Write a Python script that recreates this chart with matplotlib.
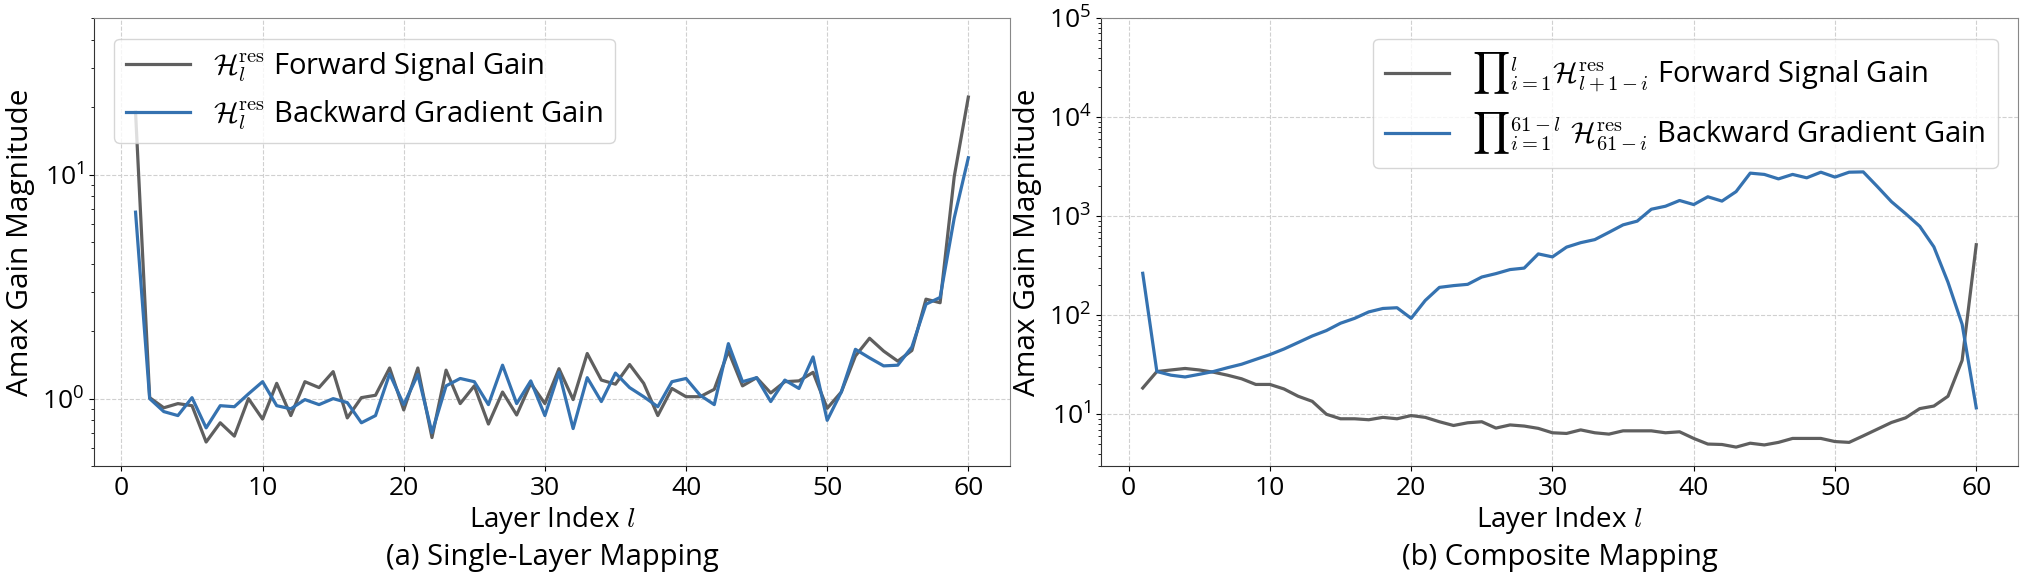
import matplotlib
matplotlib.use("Agg")
import matplotlib.pyplot as plt
import numpy as np

plt.rcParams["font.family"] = ["Open Sans", "DejaVu Sans"]
plt.rcParams["mathtext.fontset"] = "cm"

# layer index
layers = list(range(1, 61))

# (a) single-layer mapping
single_fwd = [
    19.0, 1.01, 0.91, 0.95, 0.93, 0.64, 0.78, 0.68, 1.00, 0.81,
    1.17, 0.84, 1.19, 1.12, 1.32, 0.82, 1.01, 1.035, 1.37, 0.89,
    1.37, 0.67, 1.34, 0.95, 1.14, 0.77, 1.07, 0.845, 1.17, 0.95,
    1.36, 0.99, 1.59, 1.21, 1.16, 1.42, 1.17, 0.84, 1.11, 1.02,
    1.02, 1.10, 1.63, 1.14, 1.24, 1.06, 1.19, 1.20, 1.31, 0.905,
    1.07, 1.55, 1.86, 1.63, 1.47, 1.64, 2.78, 2.68, 9.8, 22.2,
]
single_bwd = [
    6.8, 1.00, 0.875, 0.84, 1.01, 0.74, 0.93, 0.92, 1.05, 1.19,
    0.93, 0.90, 0.99, 0.94, 1.00, 0.96, 0.78, 0.84, 1.29, 0.94,
    1.28, 0.705, 1.14, 1.23, 1.19, 0.94, 1.41, 0.95, 1.20, 0.84,
    1.31, 0.735, 1.24, 0.97, 1.30, 1.12, 1.02, 0.92, 1.19, 1.23,
    1.035, 0.94, 1.76, 1.19, 1.24, 0.97, 1.21, 1.11, 1.535, 0.80,
    1.07, 1.66, 1.52, 1.40, 1.41, 1.70, 2.64, 2.83, 6.4, 11.9,
]

# (b) composite mapping
comp_fwd = [
    18.4, 27.0, 28.0, 29.0, 28.0, 26.6, 24.8, 22.8, 20.0, 20.0,
    18.0, 15.2, 13.5, 10.0, 9.0, 9.0, 8.8, 9.3, 9.0, 9.7,
    9.3, 8.4, 7.7, 8.2, 8.4, 7.25, 7.8, 7.6, 7.2, 6.5,
    6.4, 6.95, 6.5, 6.3, 6.8, 6.8, 6.8, 6.5, 6.65, 5.7,
    5.0, 4.95, 4.66, 5.1, 4.9, 5.2, 5.7, 5.7, 5.7, 5.3,
    5.2, 6.05, 7.07, 8.26, 9.2, 11.4, 12.1, 15.2, 35.0, 515.0,
]
comp_bwd = [
    265, 27.0, 24.8, 23.8, 25.3, 27.0, 29.5, 32.0, 35.8, 40.0,
    45.6, 53.0, 61.7, 70.0, 83.0, 93.0, 108, 117, 119, 93.0,
    141, 191, 199, 205, 243, 263, 289, 299, 416, 388,
    487, 540, 580, 687, 817, 891, 1175, 1260, 1440, 1310,
    1570, 1420, 1770, 2720, 2640, 2380, 2640, 2440, 2780, 2480,
    2780, 2800, 1990, 1400, 1060, 790, 490, 215, 81, 11.6,
]

GRAY = "#5f5f5f"
BLUE = "#3572b0"

fig = plt.figure(figsize=(20.24, 5.84), dpi=100)
ax1 = fig.add_axes([0.0464, 0.202, 0.4526, 0.767])
ax2 = fig.add_axes([0.544, 0.202, 0.453, 0.767])

ax1.plot(layers, single_fwd, color=GRAY, lw=2.3,
         label=r"$\mathcal{H}_l^{\mathrm{res}}$ Forward Signal Gain")
ax1.plot(layers, single_bwd, color=BLUE, lw=2.3,
         label=r"$\mathcal{H}_l^{\mathrm{res}}$ Backward Gradient Gain")
ax1.set_yscale("log")
ax1.set_ylim(0.5, 50)
ax1.legend(loc="upper left", fontsize=21, handlelength=2.2, borderaxespad=0.7)

ax2.plot(layers, comp_fwd, color=GRAY, lw=2.3,
         label=r"$\prod{}_{i=1}^{l}\mathcal{H}_{l+1-i}^{\mathrm{res}}$ Forward Signal Gain")
ax2.plot(layers, comp_bwd, color=BLUE, lw=2.3,
         label=r"$\prod{}_{i=1}^{61-l}\ \mathcal{H}_{61-i}^{\mathrm{res}}$ Backward Gradient Gain")
ax2.set_yscale("log")
ax2.set_ylim(3, 1e5)
ax2.legend(loc="upper right", fontsize=21, handlelength=2.2, borderaxespad=0.7)

for ax in (ax1, ax2):
    ax.set_xticks(range(0, 61, 10))
    ax.tick_params(labelsize=19)
    ax.set_xlabel(r"Layer Index $l$", fontsize=20, labelpad=2)
    ax.set_ylabel("Amax Gain Magnitude", fontsize=21.5, labelpad=5)
    ax.grid(True, which="major", ls="--", lw=0.8, color="#d0d0d0")
    for side in ["left", "bottom"]:
        ax.spines[side].set_color("#333333")
    for side in ["top", "right"]:
        ax.spines[side].set_color("#888888")

fig.text(0.0464 + 0.4526 / 2, 0.045, "(a) Single-Layer Mapping",
         ha="center", va="center", fontsize=21)
fig.text(0.544 + 0.453 / 2, 0.045, "(b) Composite Mapping",
         ha="center", va="center", fontsize=21)

fig.savefig("out.png", dpi=100)
